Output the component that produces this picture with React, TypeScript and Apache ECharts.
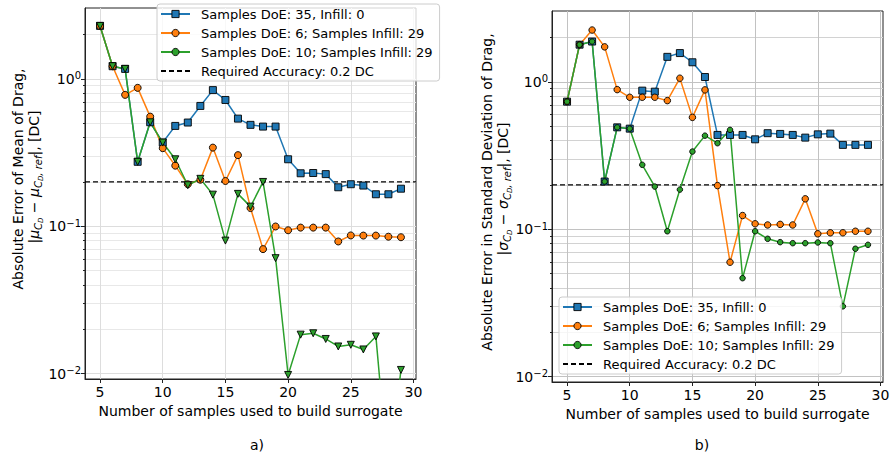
import React, { useEffect, useRef } from "react";
import * as echarts from "echarts";

// ---------- data ----------
const SAMPLES = [5, 6, 7, 8, 9, 10, 11, 12, 13, 14, 15, 16, 17, 18, 19, 20, 21, 22, 23, 24, 25, 26, 27, 28, 29];

// a) absolute error of mean of drag
const MEAN_DOE35 = [2.29, 1.22, 1.17, 0.274, 0.508, 0.37, 0.48, 0.506, 0.656, 0.84, 0.72, 0.538, 0.488, 0.475, 0.475, 0.285, 0.229, 0.23, 0.226, 0.184, 0.193, 0.189, 0.165, 0.165, 0.18];
const MEAN_DOE6 = [2.29, 1.22, 0.78, 0.87, 0.555, 0.339, 0.258, 0.193, 0.207, 0.342, 0.203, 0.304, 0.133, 0.07, 0.0997, 0.094, 0.098, 0.098, 0.098, 0.0789, 0.0867, 0.0865, 0.0865, 0.085, 0.0843];
const MEAN_DOE10 = [2.29, 1.22, 1.17, 0.274, 0.508, 0.37, 0.285, 0.19, 0.21, 0.164, 0.08, 0.166, 0.136, 0.2, 0.0608, 0.0098, 0.0184, 0.0188, 0.0172, 0.0153, 0.0157, 0.0146, 0.0179, 0.002, 0.0106];

// b) absolute error in standard deviation of drag
const STD_DOE35 = [0.735, 1.79, 1.88, 0.211, 0.492, 0.482, 0.873, 0.859, 1.48, 1.57, 1.36, 1.08, 0.437, 0.437, 0.437, 0.408, 0.449, 0.444, 0.437, 0.419, 0.441, 0.446, 0.374, 0.374, 0.374];
const STD_DOE6 = [0.735, 1.79, 2.25, 1.73, 0.887, 0.787, 0.787, 0.787, 0.747, 1.06, 0.575, 0.883, 0.198, 0.0598, 0.124, 0.109, 0.107, 0.108, 0.107, 0.161, 0.0932, 0.0947, 0.0947, 0.097, 0.097];
const STD_DOE10 = [0.735, 1.79, 1.88, 0.211, 0.492, 0.482, 0.274, 0.195, 0.097, 0.186, 0.337, 0.432, 0.384, 0.473, 0.0466, 0.097, 0.0862, 0.0818, 0.0805, 0.0805, 0.0814, 0.0805, 0.03, 0.0738, 0.0785];

const REQUIRED_ACCURACY = 0.2;

const X_TICKS = [5, 10, 15, 20, 25, 30];
const Y_TICKS = [0.01, 0.1, 1];
const Y_MINOR = [0.02, 0.03, 0.04, 0.05, 0.06, 0.07, 0.08, 0.09, 0.2, 0.3, 0.4, 0.5, 0.6, 0.7, 0.8, 0.9, 2];
const X_RANGE = [3.8, 30.2];
const Y_RANGE = [0.0092, 3.03];

const NAME_35 = "Samples DoE: 35, Infill: 0";
const NAME_6 = "Samples DoE: 6; Samples Infill: 29";
const NAME_10 = "Samples DoE: 10; Samples Infill: 29";
const NAME_REQ = "Required Accuracy: 0.2 DC";
const X_LABEL = "Number of samples used to build surrogate";
const Y_LABEL_A1 = "Absolute Error of Mean of Drag,";
const Y_LABEL_B1 = "Absolute Error in Standard Deviation of Drag,";
const CAPTIONS = ["a)", "b)"];

// ---------- styling ----------
const FONT = "DejaVu Sans";
const BLUE = "#1f77b4";
const ORANGE = "#ff7f0e";
const GREEN = "#2ca02c";
const AX = "#222222";

function yFmt(v: number): string {
  const l = Math.log10(v);
  const e = Math.round(l);
  if (Math.abs(l - e) > 1e-6) return "";
  return `{b|10}{sup|${e < 0 ? "\u2212" + -e : e}}`;
}

function xFmt(v: number): string {
  return Math.abs(v - Math.round(v)) < 1e-6 && Math.round(v) % 5 === 0 ? String(Math.round(v)) : "";
}

function pairs(vals: number[]) {
  return SAMPLES.map((x, i) => [x, vals[i]]);
}

const GRIDS = [
  { left: 85, top: 8, width: 331, height: 371, major: "#dddddd", minor: "#e8e8e8" },
  { left: 552, top: 11, width: 331, height: 371, major: "#c2c2c2", minor: "#d2d2d2" },
];

function buildOption() {
  const grid = GRIDS.map((g) => ({
    left: g.left,
    top: g.top,
    width: g.width,
    height: g.height,
    show: true,
    borderColor: AX,
    borderWidth: 1,
    backgroundColor: "transparent",
    containLabel: false,
    outerBoundsMode: "none",
  }));

  const xAxis = GRIDS.map((g, i) => ({
    type: "value",
    gridIndex: i,
    min: X_RANGE[0],
    max: X_RANGE[1],
    axisLine: { show: true, onZero: false, lineStyle: { color: AX, width: 1 } },
    axisTick: { show: true, length: 4, customValues: X_TICKS, lineStyle: { color: AX } },
    axisLabel: {
      customValues: X_TICKS,
      margin: 6,
      fontFamily: FONT,
      fontSize: 14,
      color: "#000",
      formatter: xFmt,
    },
    splitLine: { show: true, lineStyle: { color: g.major, width: 1 } },
    name: X_LABEL,
    nameLocation: "middle",
    nameGap: 25,
    nameTextStyle: { fontFamily: FONT, fontSize: 14, color: "#000" },
  }));

  const yAxis: any[] = [];
  GRIDS.forEach((g, i) => {
    yAxis.push({
      type: "log",
      logBase: 10,
      gridIndex: i,
      position: "left",
      min: Y_RANGE[0],
      max: Y_RANGE[1],
      axisLine: { show: true, onZero: false, lineStyle: { color: AX, width: 1 } },
      axisTick: { show: true, length: 4, customValues: Y_TICKS, lineStyle: { color: AX } },
      axisLabel: {
        customValues: Y_TICKS,
        margin: 4,
        color: "#000",
        fontFamily: FONT,
        formatter: yFmt,
        rich: {
          b: { fontFamily: FONT, fontSize: 14, color: "#000", lineHeight: 16 },
          sup: { fontFamily: FONT, fontSize: 10, color: "#000", verticalAlign: "top", lineHeight: 10 },
        },
      },
      splitLine: { show: true, lineStyle: { color: g.major, width: 1 } },
    });
    yAxis.push({
      type: "log",
      logBase: 10,
      gridIndex: i,
      position: "left",
      offset: 0,
      min: Y_RANGE[0],
      max: Y_RANGE[1],
      axisLine: { show: false },
      axisTick: { show: true, length: 2, customValues: Y_MINOR, lineStyle: { color: AX } },
      axisLabel: { show: false, customValues: Y_MINOR },
      splitLine: { show: true, lineStyle: { color: g.minor, width: 1 } },
    });
  });

  const line = (
    name: string,
    vals: number[],
    color: string,
    symbol: string,
    size: number,
    gi: number,
    extra: any = {}
  ) => ({
    name,
    type: "line",
    xAxisIndex: gi,
    yAxisIndex: gi * 2,
    data: pairs(vals),
    symbol,
    symbolSize: size,
    showAllSymbol: true,
    clip: true,
    lineStyle: { color, width: 1.5 },
    itemStyle: { color, borderColor: "#000", borderWidth: 0.9 },
    emphasis: { disabled: true },
    z: 3,
    ...extra,
  });

  const req = (gi: number) => ({
    name: NAME_REQ,
    type: "line",
    xAxisIndex: gi,
    yAxisIndex: gi * 2,
    data: [
      [X_RANGE[0], REQUIRED_ACCURACY],
      [X_RANGE[1], REQUIRED_ACCURACY],
    ],
    symbol: "none",
    lineStyle: { color: "#000", width: 1.3, type: [5, 3] },
    itemStyle: { color: "#000" },
    emphasis: { disabled: true },
    z: 2,
  });

  const series = [
    req(0),
    line(NAME_35, MEAN_DOE35, BLUE, "rect", 7, 0),
    line(NAME_6, MEAN_DOE6, ORANGE, "circle", 7, 0),
    line(NAME_10, MEAN_DOE10, GREEN, "circle", 7, 0, {
      data: SAMPLES.map((x, i) => ({ value: [x, MEAN_DOE10[i]], symbol: "triangle", symbolRotate: 180, symbolSize: 7 })),
    }),
    req(1),
    line(NAME_35, STD_DOE35, BLUE, "rect", 7, 1),
    line(NAME_6, STD_DOE6, ORANGE, "circle", 6.5, 1),
    line(NAME_10, STD_DOE10, GREEN, "circle", 5.5, 1),
  ];

  const legendBase = {
    orient: "vertical",
    padding: [3, 7, 3, 3],
    itemWidth: 29,
    itemHeight: 9,
    itemGap: 5,
    selectedMode: false,
    backgroundColor: "rgba(255,255,255,0.8)",
    borderColor: "#cccccc",
    borderWidth: 1,
    borderRadius: 3,
    itemStyle: { borderWidth: 0.9 },
    textStyle: { fontFamily: FONT, fontSize: 13, color: "#000", lineHeight: 14, padding: [0, 0, 0, 6] },
    data: [NAME_35, NAME_6, NAME_10, { name: NAME_REQ, itemStyle: { opacity: 0 } }],
    z: 10,
  };

  const legend = [
    { ...legendBase, left: 157, top: 4 },
    { ...legendBase, left: 559, top: 297 },
  ];

  const subRich = {
    m: { fontFamily: FONT, fontSize: 14, fontStyle: "italic", fill: "#000", lineHeight: 14 },
    s: { fontFamily: FONT, fontSize: 10, fontStyle: "italic", fill: "#000", lineHeight: 10, padding: [8, 0, 0, 0] },
    ss: { fontFamily: FONT, fontSize: 7, fontStyle: "italic", fill: "#000", lineHeight: 7, padding: [13, 0, 0, 0] },
  };
  const mathLabel = (sym: string) =>
    `|{m|${sym}}{s|C}{ss|D} \u2212 {m|${sym}}{s|C}{ss|D}{s|, ref}|, [DC]`;

  const vText = (x: number, y: number, text: string, rich?: any) => ({
    type: "text",
    x,
    y,
    rotation: Math.PI / 2,
    silent: true,
    style: {
      text,
      rich,
      fontFamily: FONT,
      fontSize: 14,
      lineHeight: 14,
      fill: "#000",
      align: "center",
      verticalAlign: "middle",
    },
  });

  const caption = (x: number, text: string) => ({
    type: "text",
    x,
    y: 445,
    silent: true,
    style: { text, fontFamily: FONT, fontSize: 14, fill: "#000", align: "center", verticalAlign: "middle" },
  });

  const graphic = [
    vText(18, 179, Y_LABEL_A1),
    vText(34, 177, mathLabel("\u03bc"), subRich),
    vText(487, 192, Y_LABEL_B1),
    vText(503, 189, mathLabel("\u03c3"), subRich),
    caption(257, CAPTIONS[0]),
    caption(702, CAPTIONS[1]),
  ];

  return {
    animation: false,
    backgroundColor: "#ffffff",
    textStyle: { fontFamily: FONT },
    grid,
    xAxis,
    yAxis,
    series,
    legend,
    graphic,
    tooltip: { show: false },
  };
}

export default function App() {
  const ref = useRef<HTMLDivElement>(null);
  useEffect(() => {
    if (!ref.current) return;
    const chart = echarts.init(ref.current, undefined, { renderer: "svg" });
    chart.setOption(buildOption() as any);
    return () => chart.dispose();
  }, []);
  return (
    <div
      ref={ref}
      style={{ width: 891, height: 459, position: "absolute", left: 0, top: 0, background: "#fff" }}
    />
  );
}
